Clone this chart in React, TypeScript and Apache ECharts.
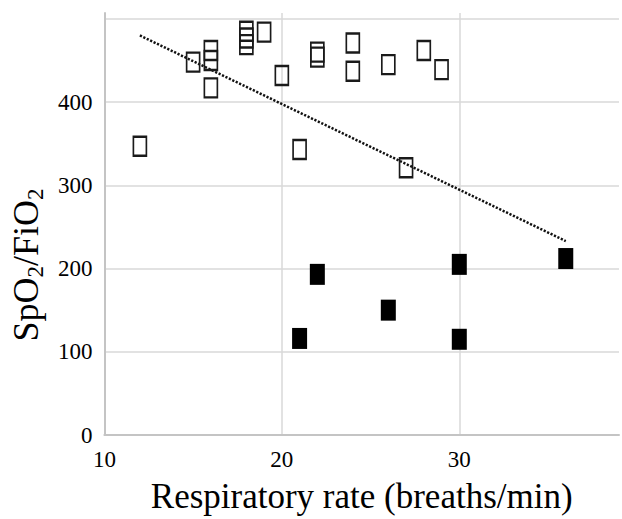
import React, { useEffect, useRef } from "react";
import * as echarts from "echarts";

const openX = [12, 15, 16, 16, 16, 18, 18, 18, 19, 20, 21, 22, 22, 24, 24, 26, 27, 28, 29];
const openY = [347, 448, 462, 450, 417, 485, 477, 469, 484, 432, 343, 460, 454, 471, 437, 445, 321, 462, 439];
const filledX = [21, 22, 26, 30, 30, 36];
const filledY = [116, 193, 150, 205, 115, 212];
const trendX = [12, 36];
const trendY = [480, 233];
const xTicks = [10, 20, 30];
const yTicks = [0, 100, 200, 300, 400];

const FONT = "Liberation Serif";

export default function App() {
  const ref = useRef<HTMLDivElement>(null);
  useEffect(() => {
    if (!ref.current) return;
    const chart = echarts.init(ref.current, null, { renderer: "svg" });
    const zip = (xs: number[], ys: number[]) => xs.map((x, i) => [x, ys[i]]);
    chart.setOption({
      animation: false,
      backgroundColor: "#ffffff",
      grid: { left: 100, right: 0, top: 13, bottom: 81, containLabel: false },
      xAxis: {
        type: "value",
        min: 10,
        max: 39,
        interval: 10,
        name: "Respiratory rate (breaths/min)",
        nameLocation: "middle",
        nameGap: 44,
        nameTextStyle: { fontFamily: FONT, fontSize: 35, color: "#000" },
        axisLine: { show: true, lineStyle: { color: "#c4c4c4", width: 2 } },
        axisTick: { show: false },
        axisLabel: {
          margin: 13,
          fontFamily: FONT,
          fontSize: 23,
          color: "#000",
          formatter: (v: number) => (xTicks.includes(v) ? String(v) : ""),
        },
        splitLine: {
          show: true,
          showMinLine: false,
          showMaxLine: false,
          lineStyle: { color: "#d9d9d9", width: 1.5 },
        },
      },
      yAxis: {
        type: "value",
        min: 0,
        max: 507,
        interval: 100,
        name: "{a|SpO}{s|2}{a|/FiO}{s|2}",
        nameLocation: "middle",
        nameGap: 52,
        nameRotate: 90,
        nameTextStyle: {
          fontFamily: FONT,
          fontSize: 36,
          color: "#000",
          padding: [0, 82, 0, 0],
          rich: {
            a: { fontFamily: FONT, fontSize: 36, color: "#000", lineHeight: 42, verticalAlign: "middle" },
            s: { fontFamily: FONT, fontSize: 23, color: "#000", lineHeight: 23, verticalAlign: "bottom" },
          },
        },
        axisLine: { show: true, lineStyle: { color: "#c4c4c4", width: 2 } },
        axisTick: { show: false },
        axisLabel: {
          margin: 12,
          fontFamily: FONT,
          fontSize: 23,
          color: "#000",
          formatter: (v: number) => (yTicks.includes(v) ? String(v) : ""),
        },
        splitLine: {
          show: true,
          showMinLine: false,
          showMaxLine: false,
          lineStyle: { color: "#d9d9d9", width: 1.5 },
        },
      },
      series: [
        {
          type: "line",
          data: zip(trendX, trendY),
          symbol: "none",
          lineStyle: { color: "#111", width: 2.5, type: [2.2, 1.6] },
          z: 3,
        },
        {
          type: "scatter",
          data: zip(openX, openY),
          symbol: "rect",
          symbolSize: [13, 19],
          itemStyle: { color: "rgba(0,0,0,0)", borderColor: "#1a1a1a", borderWidth: 2, opacity: 1 },
          z: 4,
        },
        {
          type: "scatter",
          data: zip(filledX, filledY),
          symbol: "rect",
          symbolSize: [15, 21],
          itemStyle: { color: "#000", opacity: 1 },
          z: 4,
        },
      ],
    });
    return () => chart.dispose();
  }, []);
  return (
    <div
      ref={ref}
      style={{ position: "absolute", left: 0, top: 0, width: 622, height: 519 }}
    />
  );
}
